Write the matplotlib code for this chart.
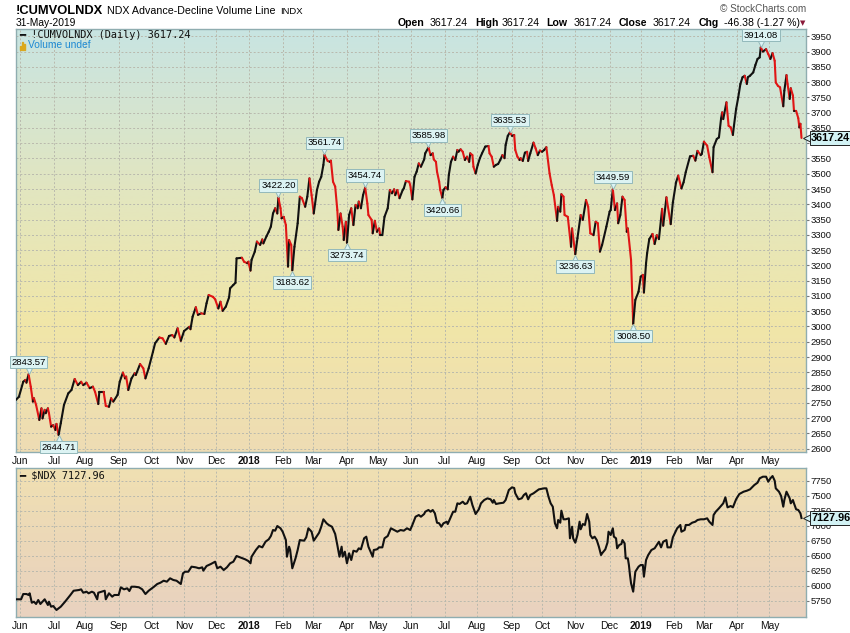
## import libraries ##
import matplotlib
matplotlib.use('Agg')
import matplotlib.pyplot as plt
import matplotlib.dates as mdates
import matplotlib.colors as mcolors
from matplotlib.collections import LineCollection
from matplotlib.patches import Rectangle
from matplotlib.transforms import offset_copy
import numpy as np
import pandas as pd

plt.rcParams['font.family'] = ['Liberation Sans', 'DejaVu Sans']


## data ##
cum_dates = [
    '2017-05-28', '2017-05-31', '2017-06-04', '2017-06-06', '2017-06-07', '2017-06-09', '2017-06-11', '2017-06-13',
    '2017-06-14', '2017-06-16', '2017-06-19', '2017-06-21', '2017-06-22', '2017-06-24', '2017-06-25', '2017-06-27',
    '2017-06-28', '2017-06-30', '2017-07-02', '2017-07-04', '2017-07-05', '2017-07-07', '2017-07-09', '2017-07-12',
    '2017-07-16', '2017-07-19', '2017-07-22', '2017-07-25', '2017-07-28', '2017-07-30', '2017-08-02', '2017-08-05',
    '2017-08-08', '2017-08-10', '2017-08-13', '2017-08-14', '2017-08-18', '2017-08-20', '2017-08-23', '2017-08-25',
    '2017-08-27', '2017-08-31', '2017-09-02', '2017-09-05', '2017-09-07', '2017-09-08', '2017-09-10', '2017-09-13',
    '2017-09-16', '2017-09-17', '2017-09-21', '2017-09-24', '2017-09-26', '2017-09-29', '2017-10-03', '2017-10-05',
    '2017-10-09', '2017-10-12', '2017-10-15', '2017-10-18', '2017-10-21', '2017-10-23', '2017-10-26', '2017-10-29',
    '2017-11-01', '2017-11-06', '2017-11-07', '2017-11-09', '2017-11-12', '2017-11-14', '2017-11-17', '2017-11-20',
    '2017-11-22', '2017-11-24', '2017-11-28', '2017-11-30', '2017-12-03', '2017-12-05', '2017-12-07', '2017-12-10',
    '2017-12-13', '2017-12-14', '2017-12-17', '2017-12-19', '2017-12-20', '2017-12-25', '2017-12-27', '2017-12-30',
    '2017-12-31', '2018-01-02', '2018-01-03', '2018-01-06', '2018-01-08', '2018-01-11', '2018-01-13', '2018-01-14',
    '2018-01-17', '2018-01-19', '2018-01-21', '2018-01-23', '2018-01-25', '2018-01-27', '2018-01-28', '2018-01-30',
    '2018-01-31', '2018-02-02', '2018-02-04', '2018-02-06', '2018-02-07', '2018-02-09', '2018-02-10', '2018-02-12',
    '2018-02-15', '2018-02-17', '2018-02-19', '2018-02-22', '2018-02-24', '2018-02-26', '2018-02-28', '2018-03-02',
    '2018-03-05', '2018-03-07', '2018-03-09', '2018-03-11', '2018-03-12', '2018-03-15', '2018-03-17', '2018-03-18',
    '2018-03-20', '2018-03-22', '2018-03-24', '2018-03-25', '2018-03-27', '2018-03-29', '2018-03-30', '2018-04-01',
    '2018-04-02', '2018-04-04', '2018-04-06', '2018-04-08', '2018-04-10', '2018-04-12', '2018-04-13', '2018-04-15',
    '2018-04-17', '2018-04-19', '2018-04-21', '2018-04-22', '2018-04-25', '2018-04-26', '2018-04-28', '2018-04-30',
    '2018-05-02', '2018-05-03', '2018-05-05', '2018-05-07', '2018-05-10', '2018-05-12', '2018-05-14', '2018-05-16',
    '2018-05-17', '2018-05-19', '2018-05-21', '2018-05-24', '2018-05-25', '2018-05-27', '2018-05-30', '2018-05-31',
    '2018-06-02', '2018-06-04', '2018-06-06', '2018-06-08', '2018-06-10', '2018-06-13', '2018-06-14', '2018-06-17',
    '2018-06-19', '2018-06-21', '2018-06-22', '2018-06-24', '2018-06-25', '2018-06-27', '2018-06-28', '2018-06-30',
    '2018-07-01', '2018-07-03', '2018-07-05', '2018-07-06', '2018-07-08', '2018-07-10', '2018-07-12', '2018-07-14',
    '2018-07-15', '2018-07-17', '2018-07-19', '2018-07-21', '2018-07-23', '2018-07-25', '2018-07-26', '2018-07-28',
    '2018-07-29', '2018-07-31', '2018-08-02', '2018-08-04', '2018-08-06', '2018-08-09', '2018-08-12', '2018-08-13',
    '2018-08-15', '2018-08-17', '2018-08-19', '2018-08-21', '2018-08-23', '2018-08-25', '2018-08-27', '2018-08-28',
    '2018-08-30', '2018-09-01', '2018-09-03', '2018-09-05', '2018-09-06', '2018-09-08', '2018-09-10', '2018-09-11',
    '2018-09-13', '2018-09-15', '2018-09-17', '2018-09-18', '2018-09-20', '2018-09-23', '2018-09-25', '2018-09-27',
    '2018-09-29', '2018-10-01', '2018-10-03', '2018-10-05', '2018-10-08', '2018-10-10', '2018-10-12', '2018-10-15',
    '2018-10-16', '2018-10-18', '2018-10-19', '2018-10-21', '2018-10-22', '2018-10-25', '2018-10-28', '2018-10-29',
    '2018-11-01', '2018-11-03', '2018-11-06', '2018-11-08', '2018-11-11', '2018-11-13', '2018-11-15', '2018-11-18',
    '2018-11-20', '2018-11-22', '2018-11-24', '2018-11-26', '2018-11-30', '2018-12-03', '2018-12-04', '2018-12-06',
    '2018-12-08', '2018-12-10', '2018-12-11', '2018-12-13', '2018-12-15', '2018-12-17', '2018-12-19', '2018-12-20',
    '2018-12-23', '2018-12-25', '2018-12-27', '2018-12-30', '2019-01-01', '2019-01-03', '2019-01-04', '2019-01-06',
    '2019-01-07', '2019-01-09', '2019-01-12', '2019-01-14', '2019-01-16', '2019-01-18', '2019-01-21', '2019-01-22',
    '2019-01-25', '2019-01-29', '2019-01-31', '2019-02-03', '2019-02-05', '2019-02-08', '2019-02-10', '2019-02-12',
    '2019-02-16', '2019-02-19', '2019-02-21', '2019-02-23', '2019-02-26', '2019-02-27', '2019-03-01', '2019-03-04',
    '2019-03-06', '2019-03-09', '2019-03-10', '2019-03-13', '2019-03-15', '2019-03-17', '2019-03-18', '2019-03-19',
    '2019-03-22', '2019-03-24', '2019-03-26', '2019-03-28', '2019-03-29', '2019-03-31', '2019-04-02', '2019-04-04',
    '2019-04-06', '2019-04-08', '2019-04-10', '2019-04-11', '2019-04-13', '2019-04-16', '2019-04-18', '2019-04-20',
    '2019-04-22', '2019-04-23', '2019-04-25', '2019-04-28', '2019-04-30', '2019-05-02', '2019-05-04', '2019-05-06',
    '2019-05-07', '2019-05-09', '2019-05-11', '2019-05-14', '2019-05-15', '2019-05-17', '2019-05-18', '2019-05-20',
    '2019-05-21', '2019-05-23', '2019-05-24', '2019-05-26', '2019-05-28', '2019-05-29', '2019-05-30', '2019-05-31',
]
cum_values = [
    2759, 2770, 2819, 2825, 2816, 2843.57, 2803, 2754,
    2765, 2743, 2694, 2732, 2699, 2727, 2716, 2732,
    2716, 2672, 2677, 2661, 2681, 2644.71, 2683, 2743,
    2781, 2792, 2828, 2808, 2819, 2808, 2816, 2798,
    2803, 2786, 2746, 2786, 2786, 2740, 2737, 2765,
    2754, 2776, 2819, 2849, 2830, 2836, 2792, 2830,
    2847, 2841, 2877, 2863, 2830, 2863, 2917, 2945,
    2964, 2961, 2943, 2969, 2972, 2964, 2994, 2953,
    2985, 2999, 2991, 3032, 3063, 3038, 3043, 3041,
    3076, 3103, 3097, 3089, 3059, 3081, 3051, 3065,
    3095, 3125, 3136, 3143, 3223, 3225, 3212, 3207,
    3212, 3183, 3218, 3245, 3278, 3267, 3285, 3272,
    3296, 3310, 3327, 3370, 3387, 3370, 3422.20, 3387,
    3354, 3359, 3332, 3196, 3283, 3267, 3183.62, 3261,
    3338, 3425, 3420, 3392, 3425, 3485, 3430, 3370,
    3447, 3474, 3490, 3529, 3561.74, 3542, 3539, 3543,
    3474, 3458, 3381, 3316, 3370, 3327, 3283, 3343,
    3273.74, 3365, 3387, 3332, 3398, 3387, 3409, 3387,
    3430, 3454.74, 3403, 3365, 3349, 3305, 3346, 3310,
    3321, 3299, 3299, 3359, 3387, 3447, 3436, 3449,
    3430, 3447, 3420, 3447, 3452, 3476, 3474, 3463,
    3416, 3490, 3507, 3534, 3523, 3547, 3567, 3585.98,
    3561, 3567, 3547, 3539, 3507, 3474, 3447, 3420.66,
    3447, 3456, 3449, 3496, 3539, 3556, 3545, 3578,
    3572, 3580, 3572, 3545, 3556, 3539, 3567, 3561,
    3523, 3501, 3529, 3551, 3567, 3589, 3591, 3567,
    3556, 3523, 3529, 3532, 3545, 3561, 3551, 3594,
    3624, 3635.53, 3624, 3627, 3578, 3556, 3545, 3551,
    3542, 3569, 3572, 3542, 3567, 3602, 3583, 3561,
    3576, 3572, 3578, 3587, 3501, 3463, 3430, 3346,
    3392, 3376, 3433, 3425, 3365, 3359, 3261, 3321,
    3236.63, 3289, 3365, 3349, 3414, 3392, 3305, 3299,
    3343, 3338, 3245, 3267, 3327, 3376, 3381, 3449.59,
    3381, 3403, 3338, 3365, 3425, 3414, 3310, 3321,
    3218, 3008.50, 3087, 3114, 3163, 3169, 3111, 3207,
    3240, 3286, 3303, 3270, 3299, 3286, 3385, 3330,
    3423, 3335, 3406, 3472, 3494, 3452, 3472, 3505,
    3557, 3559, 3543, 3575, 3561, 3565, 3605, 3592,
    3554, 3505, 3587, 3614, 3619, 3681, 3701, 3679,
    3734, 3657, 3652, 3627, 3657, 3712, 3750, 3794,
    3816, 3821, 3794, 3816, 3821, 3832, 3856, 3876,
    3881, 3914.08, 3900, 3908, 3892, 3876, 3895, 3870,
    3799, 3788, 3783, 3721, 3772, 3823, 3794, 3745,
    3780, 3756, 3706, 3706, 3682, 3652, 3663.62, 3617.24,
]

ndx_dates = [
    '2017-05-28', '2017-06-02', '2017-06-04', '2017-06-07', '2017-06-09', '2017-06-10', '2017-06-12', '2017-06-14',
    '2017-06-16', '2017-06-18', '2017-06-20', '2017-06-22', '2017-06-24', '2017-06-27', '2017-06-28', '2017-06-30',
    '2017-07-02', '2017-07-05', '2017-07-07', '2017-07-09', '2017-07-13', '2017-07-18', '2017-07-21', '2017-07-26',
    '2017-07-28', '2017-07-30', '2017-08-02', '2017-08-04', '2017-08-07', '2017-08-09', '2017-08-12', '2017-08-13',
    '2017-08-16', '2017-08-19', '2017-08-20', '2017-08-23', '2017-08-26', '2017-08-28', '2017-09-01', '2017-09-03',
    '2017-09-06', '2017-09-09', '2017-09-11', '2017-09-13', '2017-09-16', '2017-09-20', '2017-09-23', '2017-09-26',
    '2017-09-29', '2017-10-04', '2017-10-07', '2017-10-10', '2017-10-13', '2017-10-16', '2017-10-19', '2017-10-22',
    '2017-10-25', '2017-10-29', '2017-10-31', '2017-11-02', '2017-11-05', '2017-11-08', '2017-11-12', '2017-11-15',
    '2017-11-18', '2017-11-19', '2017-11-22', '2017-11-26', '2017-11-30', '2017-12-02', '2017-12-05', '2017-12-08',
    '2017-12-11', '2017-12-14', '2017-12-17', '2017-12-20', '2017-12-24', '2017-12-28', '2017-12-31', '2018-01-02',
    '2018-01-03', '2018-01-07', '2018-01-10', '2018-01-13', '2018-01-16', '2018-01-19', '2018-01-21', '2018-01-23',
    '2018-01-25', '2018-01-27', '2018-01-30', '2018-02-01', '2018-02-04', '2018-02-05', '2018-02-07', '2018-02-08',
    '2018-02-10', '2018-02-13', '2018-02-15', '2018-02-17', '2018-02-21', '2018-02-23', '2018-02-25', '2018-02-28',
    '2018-03-02', '2018-03-05', '2018-03-07', '2018-03-09', '2018-03-11', '2018-03-14', '2018-03-16', '2018-03-19',
    '2018-03-22', '2018-03-24', '2018-03-26', '2018-03-28', '2018-03-29', '2018-03-31', '2018-04-02', '2018-04-04',
    '2018-04-06', '2018-04-08', '2018-04-11', '2018-04-13', '2018-04-15', '2018-04-18', '2018-04-20', '2018-04-22',
    '2018-04-26', '2018-04-27', '2018-04-30', '2018-05-02', '2018-05-05', '2018-05-07', '2018-05-10', '2018-05-13',
    '2018-05-16', '2018-05-19', '2018-05-22', '2018-05-25', '2018-05-28', '2018-05-31', '2018-06-02', '2018-06-05',
    '2018-06-08', '2018-06-10', '2018-06-13', '2018-06-14', '2018-06-17', '2018-06-19', '2018-06-21', '2018-06-23',
    '2018-06-25', '2018-06-27', '2018-06-29', '2018-07-01', '2018-07-04', '2018-07-05', '2018-07-08', '2018-07-10',
    '2018-07-12', '2018-07-14', '2018-07-16', '2018-07-19', '2018-07-21', '2018-07-23', '2018-07-26', '2018-07-28',
    '2018-07-31', '2018-08-03', '2018-08-05', '2018-08-08', '2018-08-11', '2018-08-14', '2018-08-16', '2018-08-17',
    '2018-08-19', '2018-08-22', '2018-08-26', '2018-08-28', '2018-08-31', '2018-09-03', '2018-09-05', '2018-09-06',
    '2018-09-09', '2018-09-12', '2018-09-14', '2018-09-16', '2018-09-18', '2018-09-20', '2018-09-23', '2018-09-25',
    '2018-09-28', '2018-10-03', '2018-10-05', '2018-10-07', '2018-10-09', '2018-10-11', '2018-10-13', '2018-10-15',
    '2018-10-16', '2018-10-18', '2018-10-19', '2018-10-21', '2018-10-23', '2018-10-26', '2018-10-27', '2018-10-29',
    '2018-10-30', '2018-11-01', '2018-11-03', '2018-11-05', '2018-11-06', '2018-11-08', '2018-11-10', '2018-11-12',
    '2018-11-14', '2018-11-15', '2018-11-17', '2018-11-19', '2018-11-21', '2018-11-23', '2018-11-25', '2018-11-26',
    '2018-11-29', '2018-12-01', '2018-12-02', '2018-12-04', '2018-12-06', '2018-12-07', '2018-12-09', '2018-12-10',
    '2018-12-12', '2018-12-14', '2018-12-15', '2018-12-17', '2018-12-18', '2018-12-20', '2018-12-21', '2018-12-22',
    '2018-12-23', '2018-12-25', '2018-12-27', '2018-12-29', '2018-12-30', '2019-01-01', '2019-01-03', '2019-01-04',
    '2019-01-06', '2019-01-08', '2019-01-11', '2019-01-14', '2019-01-17', '2019-01-18', '2019-01-20', '2019-01-22',
    '2019-01-25', '2019-01-26', '2019-01-29', '2019-01-31', '2019-02-02', '2019-02-04', '2019-02-07', '2019-02-08',
    '2019-02-11', '2019-02-12', '2019-02-15', '2019-02-18', '2019-02-21', '2019-02-23', '2019-02-26', '2019-03-01',
    '2019-03-04', '2019-03-06', '2019-03-09', '2019-03-10', '2019-03-12', '2019-03-15', '2019-03-19', '2019-03-21',
    '2019-03-23', '2019-03-26', '2019-03-28', '2019-03-31', '2019-04-03', '2019-04-07', '2019-04-10', '2019-04-13',
    '2019-04-17', '2019-04-20', '2019-04-22', '2019-04-25', '2019-04-28', '2019-04-30', '2019-05-02', '2019-05-04',
    '2019-05-06', '2019-05-07', '2019-05-10', '2019-05-12', '2019-05-14', '2019-05-15', '2019-05-17', '2019-05-20',
    '2019-05-21', '2019-05-23', '2019-05-24', '2019-05-26', '2019-05-28', '2019-05-30', '2019-05-31',
]
ndx_values = [
    5773, 5773, 5861, 5861, 5845, 5873, 5716, 5733,
    5695, 5761, 5695, 5733, 5773, 5678, 5733, 5650,
    5661, 5595, 5623, 5650, 5733, 5845, 5916, 5928,
    5939, 5883, 5900, 5873, 5900, 5883, 5773, 5883,
    5900, 5916, 5773, 5873, 5817, 5845, 5845, 5973,
    5939, 5956, 5911, 5983, 5983, 5973, 5939, 5861,
    5916, 5983, 6028, 6050, 6083, 6067, 6123, 6095,
    6083, 6028, 6206, 6233, 6233, 6317, 6306, 6290,
    6306, 6250, 6328, 6361, 6400, 6290, 6317, 6261,
    6306, 6373, 6400, 6495, 6467, 6440, 6411, 6373,
    6483, 6595, 6661, 6639, 6733, 6773, 6828, 6928,
    6917, 6995, 6957, 6900, 6761, 6483, 6650, 6595,
    6290, 6456, 6595, 6761, 6750, 6806, 6957, 6900,
    6750, 6828, 6883, 6983, 7107, 7040, 7012, 6983,
    6862, 6678, 6483, 6650, 6483, 6567, 6373, 6540,
    6428, 6583, 6567, 6623, 6606, 6790, 6817, 6650,
    6483, 6595, 6606, 6639, 6639, 6790, 6828, 6957,
    6928, 6900, 6928, 6917, 6957, 6928, 7012, 7150,
    7178, 7150, 7195, 7233, 7262, 7233, 7262, 7207,
    7050, 7040, 6983, 7040, 7067, 7028, 7150, 7233,
    7233, 7373, 7362, 7400, 7362, 7373, 7483, 7345,
    7195, 7273, 7373, 7428, 7456, 7440, 7383, 7428,
    7362, 7373, 7383, 7428, 7595, 7640, 7628, 7540,
    7440, 7456, 7512, 7540, 7440, 7512, 7540, 7567,
    7606, 7623, 7623, 7483, 7373, 7317, 7040, 6957,
    7095, 7050, 7250, 7107, 7107, 7123, 6790, 6983,
    6790, 6717, 6845, 7067, 6940, 7028, 7012, 7195,
    7067, 6845, 6790, 6817, 6761, 6650, 6511, 6540,
    6606, 6717, 6900, 6845, 6957, 6817, 6790, 6623,
    6678, 6695, 6761, 6706, 6456, 6456, 6345, 6178,
    6040, 5900, 6233, 6290, 6317, 6345, 6345, 6150,
    6428, 6511, 6595, 6623, 6706, 6733, 6639, 6733,
    6761, 6639, 6639, 6806, 6883, 6957, 7012, 6900,
    6928, 7012, 7012, 7050, 7067, 7095, 7107, 7107,
    7123, 7067, 7012, 7178, 7233, 7290, 7373, 7473,
    7306, 7328, 7306, 7440, 7528, 7567, 7583, 7606,
    7678, 7717, 7790, 7817, 7817, 7733, 7790, 7828,
    7750, 7623, 7567, 7495, 7317, 7428, 7567, 7456,
    7373, 7428, 7373, 7273, 7262, 7207, 7127.96,
]

peak_dates = ['2017-06-09', '2018-01-28', '2018-03-12', '2018-04-19',
              '2018-06-17', '2018-09-01', '2018-12-06', '2019-04-23']
trough_dates = ['2017-07-07', '2018-02-10', '2018-04-02', '2018-06-30',
                '2018-11-01', '2018-12-25']

cum_change = -46.38
cum_change_pct = -1.27

cum = pd.Series(cum_values, index=pd.to_datetime(cum_dates))
ndx = pd.Series(ndx_values, index=pd.to_datetime(ndx_dates))


## figure layout (pixel based) ##
W, H = 850, 633
fig = plt.figure(figsize=(W / 100, H / 100), dpi=100)
fig.patch.set_facecolor('white')


def px(x, y):
    return x / W, 1 - y / H


def rect(x0, y0, x1, y1):
    return [x0 / W, 1 - y1 / H, (x1 - x0) / W, (y1 - y0) / H]


def gradient_axes(r, stops):
    bg = fig.add_axes(r, zorder=0)
    pos = [s[0] for s in stops]
    cols = [mcolors.to_rgb(s[1]) for s in stops]
    t = np.linspace(0, 1, 256)
    rgb = np.stack([np.interp(t, pos, [c[i] for c in cols]) for i in range(3)], axis=1)
    bg.imshow(rgb[:, None, :], origin='lower', aspect='auto', extent=[0, 1, 0, 1])
    bg.axis('off')
    ax = fig.add_axes(r, zorder=1)
    ax.patch.set_alpha(0)
    return ax


top_rect = rect(16, 29, 806, 452)
bot_rect = rect(16, 468.3, 806, 616.7)

ax1 = gradient_axes(top_rect, [(0.0, '#eedcb4'), (0.3, '#f1e6a8'), (0.62, '#e2e6c0'), (1.0, '#c8e4e2')])
ax2 = gradient_axes(bot_rect, [(0.0, '#e9d2c0'), (0.5, '#ecd8b8'), (1.0, '#f0e0b2')])

xmin = pd.Timestamp('2017-05-28 06:00')
xmax = pd.Timestamp('2019-06-04 05:00')
month_ticks = pd.date_range('2017-06-01', '2019-05-31', freq='BMS')
month_labels = [str(d.year) if d.month == 1 else d.strftime('%b') for d in month_ticks]

grid_col = '#b9b9ad'
spine_col = '#8fadb0'

for ax in (ax1, ax2):
    ax.xaxis_date()
    ax.grid(True, color=grid_col, ls=(0, (2, 2)), lw=0.7)
    ax.set_axisbelow(True)
    for s in ax.spines.values():
        s.set_color(spine_col)
        s.set_linewidth(1.0)
    ax.yaxis.tick_right()
    ax.tick_params(axis='y', direction='out', length=2.5, width=0.8, color='#777777',
                   pad=1, labelsize=6.8, labelcolor='#111111')
    ax.tick_params(axis='x', length=0, pad=3, labelsize=7.4, labelcolor='#111111')
    ax.set_xticks(month_ticks)
    ax.set_xticklabels(month_labels)
    for lab, d in zip(ax.get_xticklabels(), month_ticks):
        if d.month == 1:
            lab.set_fontweight('bold')


## top panel: advance-decline volume line, red on down days ##
t = mdates.date2num(cum.index)
v = cum.values.astype(float)
pts = np.column_stack([t, v])
segs = np.stack([pts[:-1], pts[1:]], axis=1)
seg_cols = ['#e01515' if d < 0 else '#111111' for d in np.diff(v)]
lc = LineCollection(segs, colors=seg_cols, linewidths=1.5, capstyle='round',
                    joinstyle='round', zorder=3)
ax1.add_collection(lc)
ax1.set_xlim(xmin, xmax)
ax1.set_ylim(2589, 3974)
top_ticks = np.arange(2600, 3951, 50)
ax1.set_yticks(top_ticks)
# the last-value tag sits on top of the nearest tick label
ax1.set_yticklabels(['' if abs(tk - cum.values[-1]) < 25 else str(tk) for tk in top_ticks])

box_fc = '#dcf3f3'
box_ec = '#93b9bb'
for d in peak_dates:
    val = cum.loc[d]
    x = mdates.date2num(pd.Timestamp(d))
    ax1.annotate(f'{val:.2f}', xy=(x, val), xytext=(0, 5.5), textcoords='offset points',
                 ha='center', va='bottom', fontsize=6.8, zorder=6,
                 bbox=dict(boxstyle='square,pad=0.18', fc=box_fc, ec=box_ec, lw=0.7))
    ax1.plot(x, val, marker='v', ms=5.5, mfc=box_fc, mec=box_ec, mew=0.7, zorder=5, clip_on=False,
             transform=offset_copy(ax1.transData, fig=fig, x=0, y=3.2, units='points'))
for d in trough_dates:
    val = cum.loc[d]
    x = mdates.date2num(pd.Timestamp(d))
    ax1.annotate(f'{val:.2f}', xy=(x, val), xytext=(0, -5.5), textcoords='offset points',
                 ha='center', va='top', fontsize=6.8, zorder=6,
                 bbox=dict(boxstyle='square,pad=0.18', fc=box_fc, ec=box_ec, lw=0.7))
    ax1.plot(x, val, marker='^', ms=5.5, mfc=box_fc, mec=box_ec, mew=0.7, zorder=5, clip_on=False,
             transform=offset_copy(ax1.transData, fig=fig, x=0, y=-3.2, units='points'))


## bottom panel: $NDX ##
ax2.plot(ndx.index, ndx.values, color='#111111', lw=1.5, zorder=3)
ax2.set_xlim(xmin, xmax)
ax2.set_ylim(5483, 7957)
ax2.set_yticks(np.arange(5750, 7751, 250))


## last-value tags on the right axis ##
def last_tag(ax, val):
    tr = ax.get_yaxis_transform()
    ax.plot(1, val, marker='<', ms=7, mfc='#d2f2f4', mec='#222222', mew=0.7, clip_on=False, zorder=9,
            transform=offset_copy(tr, fig=fig, x=1.4, y=0, units='points'))
    ax.annotate(f'{val:.2f}', xy=(1, val), xycoords=tr, xytext=(3.8, 0), textcoords='offset points',
                ha='left', va='center', fontsize=7.8, fontweight='bold', zorder=10,
                annotation_clip=False,
                bbox=dict(boxstyle='square,pad=0.15', fc='#d2f2f4', ec='#222222', lw=0.7))


last_tag(ax1, cum.values[-1])
last_tag(ax2, ndx.values[-1])


## header texts ##
fig.text(*px(16, 13.5), '!CUMVOLNDX', fontsize=9.3, fontweight='bold', va='baseline')
fig.text(*px(106.5, 13.5), 'NDX Advance-Decline Volume Line', fontsize=7.7, va='baseline')
fig.text(*px(280, 13.5), 'INDX', fontsize=6.8, va='baseline')
fig.text(*px(16, 26), '31-May-2019', fontsize=7.4, va='baseline')
fig.text(*px(806.5, 12.5), '\u00a9 StockCharts.com', fontsize=7.2, color='#555555',
         ha='right', va='baseline')

last = cum.values[-1]
header = [(398, 'Open', True), (430, f'{last:.2f}', False), (475, 'High', True),
          (501.5, f'{last:.2f}', False), (546.5, 'Low', True), (574, f'{last:.2f}', False),
          (619, 'Close', True), (653, f'{last:.2f}', False), (699, 'Chg', True),
          (724, f'{cum_change:.2f} ({cum_change_pct:.2f} %)', False)]
for x, s, bold in header:
    fig.text(*px(x, 26), s, fontsize=7.6, fontweight='bold' if bold else 'normal', va='baseline')
fig.text(*px(799.5, 25.5), '\u25bc', fontsize=5, color='#8b1a3a', va='baseline',
         family='DejaVu Sans')

# in-panel legends
fig.text(*px(19, 35), f'\u2501 !CUMVOLNDX (Daily) {last:.2f}', fontsize=7.4, va='center',
         family='DejaVu Sans Mono', color='#111111')
for bx, bh in [(19.5, 4), (21.7, 7), (23.9, 5)]:
    fig.add_artist(Rectangle(px(bx, 49.5), 1.4 / W, bh / H, transform=fig.transFigure,
                             color='#dba81c', zorder=5))
fig.text(*px(28, 45), 'Volume undef', fontsize=7.4, va='center', color='#1f8ad3')
fig.text(*px(19, 475.7), f'\u2501 $NDX {ndx.values[-1]:.2f}', fontsize=7.4, va='center',
         family='DejaVu Sans Mono', color='#111111')


## save ##
fig.savefig('out.png', dpi=100)
